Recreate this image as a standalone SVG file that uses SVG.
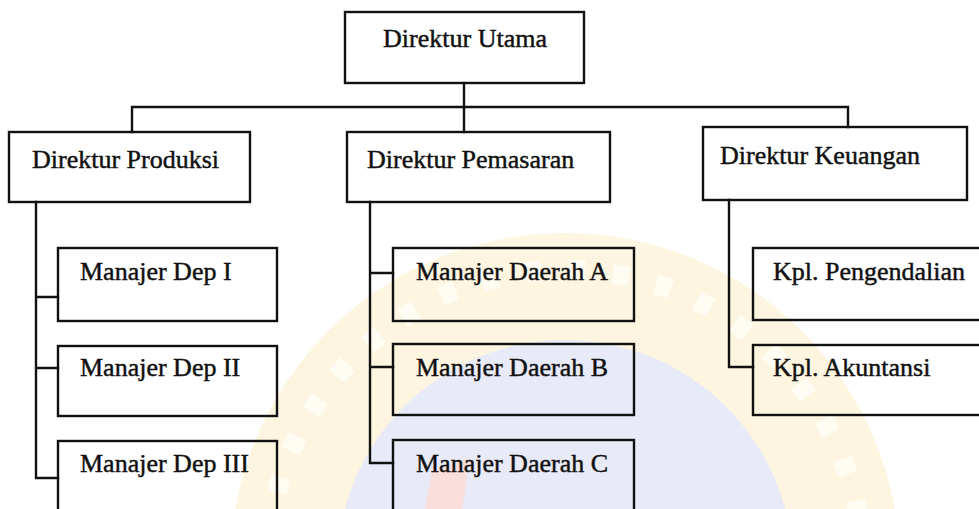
<svg xmlns="http://www.w3.org/2000/svg" width="979" height="509" viewBox="0 0 979 509">
  <style>
    .box { fill: none; stroke: #111; stroke-width: 2.4; }
    .wire { fill: none; stroke: #111; stroke-width: 2.4; stroke-linecap: square; }
    .lbl { font-family: "Liberation Serif", "Times New Roman", serif; font-size: 26px; fill: #111; stroke: #111; stroke-width: 0.45; }
  </style>

  <rect width="979" height="509" fill="#ffffff"/>

  <!-- faint background seal -->
  <g id="seal" opacity="0.32">
    <circle cx="565" cy="568" r="335" fill="#fbe3a0"/>
    <circle cx="565" cy="568" r="298" fill="none" stroke="#fff6dc" stroke-width="20" stroke-dasharray="16 28"/>
    <circle cx="565" cy="568" r="228" fill="#b9bfea"/>
    <path d="M432 472 L470 458 L462 509 L425 509 Z" fill="#ef9a92"/>
  </g>

  <!-- connectors -->
  <g id="connectors">
    <path class="wire" d="M464 83 V132"/>
    <path class="wire" d="M132 132 V107 H848 V127"/>
    <path class="wire" d="M36 202 V478 H58 M36 297 H58 M36 368 H58"/>
    <path class="wire" d="M370 202 V463 H393 M370 273 H393 M370 367 H393"/>
    <path class="wire" d="M729 200 V367 H753"/>
  </g>

  <g id="direktur-utama">
    <rect class="box" x="345" y="12" width="239" height="71"/>
    <text class="lbl" x="465" y="47" text-anchor="middle">Direktur Utama</text>
  </g>

  <g id="direktur-produksi">
    <rect class="box" x="9" y="132" width="241" height="70"/>
    <text class="lbl" x="32" y="168">Direktur Produksi</text>
  </g>

  <g id="direktur-pemasaran">
    <rect class="box" x="347" y="132" width="263" height="70"/>
    <text class="lbl" x="367" y="168">Direktur Pemasaran</text>
  </g>

  <g id="direktur-keuangan">
    <rect class="box" x="703" y="127" width="264" height="73"/>
    <text class="lbl" x="720" y="164">Direktur Keuangan</text>
  </g>

  <g id="manajer-dep-1">
    <rect class="box" x="58" y="248" width="219" height="73"/>
    <text class="lbl" x="80" y="280">Manajer Dep I</text>
  </g>
  <g id="manajer-dep-2">
    <rect class="box" x="58" y="346" width="219" height="70"/>
    <text class="lbl" x="80" y="376">Manajer Dep II</text>
  </g>
  <g id="manajer-dep-3">
    <rect class="box" x="58" y="441" width="219" height="80"/>
    <text class="lbl" x="80" y="472">Manajer Dep III</text>
  </g>

  <g id="manajer-daerah-a">
    <rect class="box" x="393" y="248" width="241" height="73"/>
    <text class="lbl" x="416" y="280">Manajer Daerah A</text>
  </g>
  <g id="manajer-daerah-b">
    <rect class="box" x="393" y="344" width="241" height="71"/>
    <text class="lbl" x="416" y="376">Manajer Daerah B</text>
  </g>
  <g id="manajer-daerah-c">
    <rect class="box" x="393" y="440" width="241" height="80"/>
    <text class="lbl" x="416" y="472">Manajer Daerah C</text>
  </g>

  <g id="kpl-pengendalian">
    <rect class="box" x="753" y="248" width="240" height="72"/>
    <text class="lbl" x="773" y="280">Kpl. Pengendalian</text>
  </g>
  <g id="kpl-akuntansi">
    <rect class="box" x="753" y="345" width="240" height="70"/>
    <text class="lbl" x="773" y="376">Kpl. Akuntansi</text>
  </g>
</svg>
